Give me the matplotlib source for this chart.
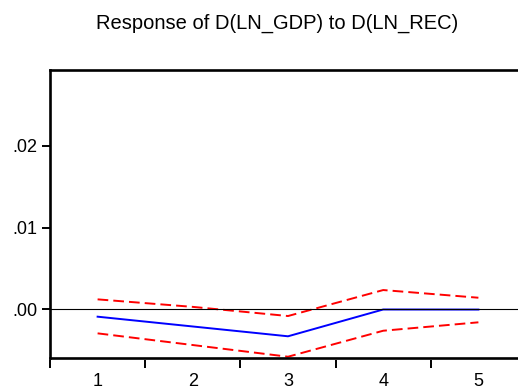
"""
Impulse response: D(LN_GDP) to D(LN_REC)
"""

import numpy as np
import matplotlib
matplotlib.use("Agg")
import matplotlib.pyplot as plt
from matplotlib.lines import Line2D

plt.rcParams['font.family'] = ['Liberation Sans', 'DejaVu Sans']

periods = [1, 2, 3, 4, 5]
response = [-0.0009, -0.0021, -0.0033, -0.00002, -0.00003]
upper_band = [0.00122, 0.0003, -0.00082, 0.00236, 0.00142]
lower_band = [-0.00294, -0.00437, -0.0058, -0.00262, -0.00159]

y_ticks = [0.00, 0.01, 0.02]
y_labels = ['.00', '.01', '.02']
title = 'Response of D(LN_GDP) to D(LN_REC)'

fig = plt.figure(figsize=(5.18, 3.92), dpi=100)
# axes runs past the right edge like the original export
ax = fig.add_axes([50 / 518, 1 - 357.7 / 392, 476 / 518, 287.7 / 392])

ax.plot(periods, response, color='blue', lw=1.4)
ax.plot(periods, upper_band, color='red', lw=1.4, ls=(0, (5.5, 2.6)))
ax.plot(periods, lower_band, color='red', lw=1.4, ls=(0, (5.5, 2.6)))
ax.axhline(0, color='black', lw=0.8)

ax.set_xlim(0.5, 5.5)
ax.set_ylim(-0.00592, 0.02929)

# x ticks hang a little below the frame, so the axis line is moved out
# and the frame bottom is drawn on its own
ax.spines['bottom'].set_position(('outward', 2))
ax.spines['bottom'].set_visible(False)
ax.add_artist(Line2D([0, 1], [0, 0], transform=ax.transAxes, color='black',
                     lw=1.9, clip_on=False, solid_capstyle='projecting'))

# boundaries get ticks, labels sit in between
ax.set_xticks(np.arange(0.5, 6.0, 1.0))
ax.set_xticklabels([])
ax.set_xticks(periods, minor=True)
ax.set_xticklabels([str(p) for p in periods], minor=True)
ax.tick_params(axis='x', which='major', direction='out', length=6, width=1.4)
ax.tick_params(axis='x', which='minor', length=0, pad=9, labelsize=13)

ax.set_yticks(y_ticks)
ax.set_yticklabels(y_labels)
ax.tick_params(axis='y', direction='out', length=6, width=1.4, pad=3, labelsize=13)

for s in ax.spines.values():
    s.set_linewidth(1.9)

fig.text(277 / 518, 1 - 28.5 / 392, title, ha='center', va='baseline', fontsize=14.5)

fig.savefig('out.png', dpi=100)
